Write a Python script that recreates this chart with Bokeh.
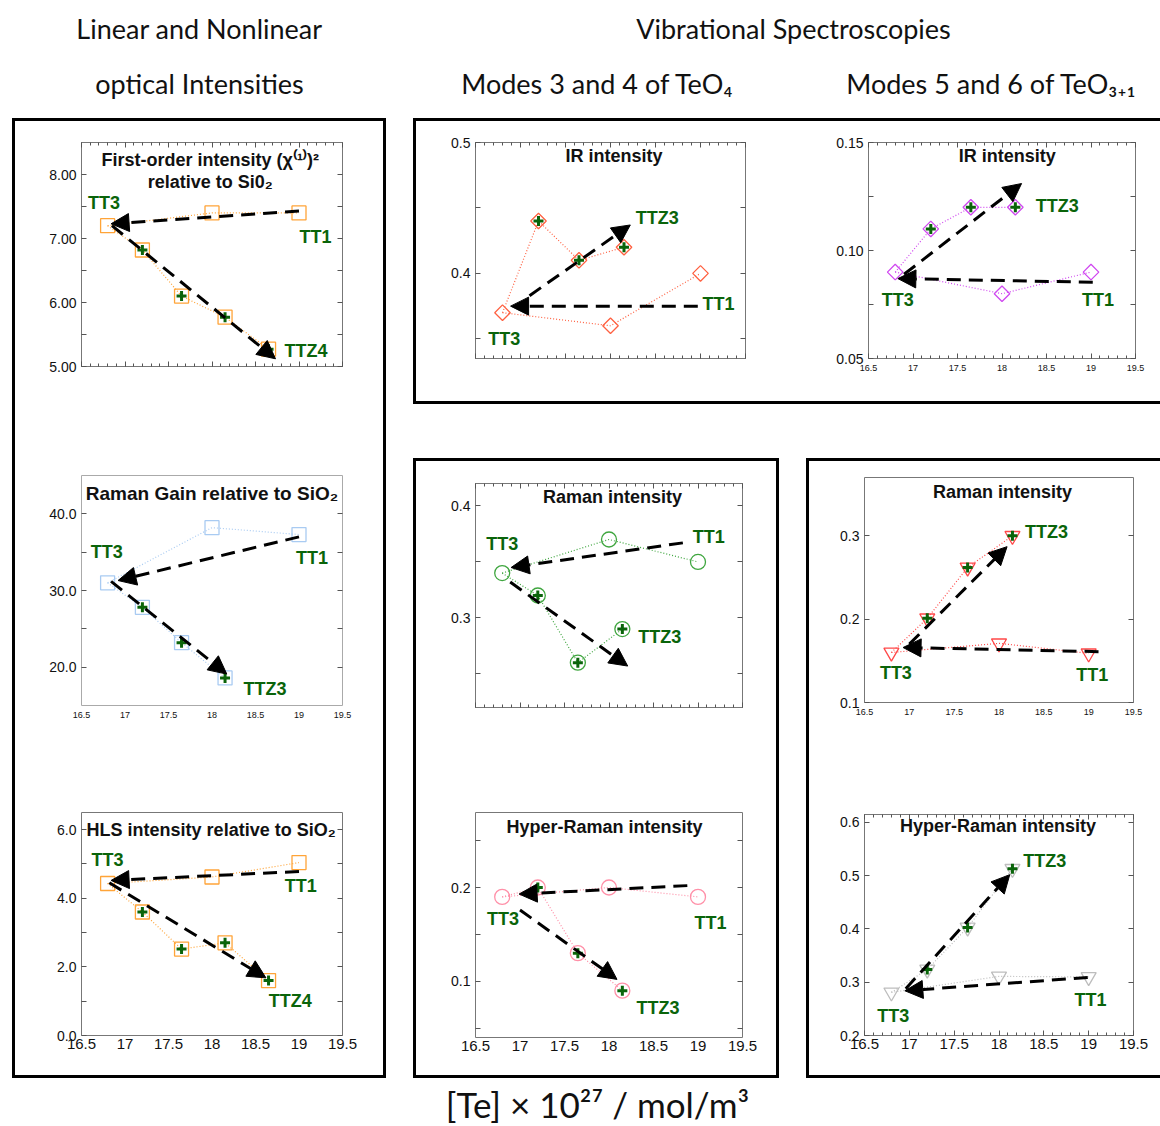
import math
from bokeh.plotting import figure
from bokeh.models import (Range1d, LinearAxis, FixedTicker, PrintfTickFormatter,
                          CustomJSTickFormatter, Arrow, NormalHead, Label, Spacer)
from bokeh.layouts import row, column
from bokeh.embed import file_html
from bokeh.resources import INLINE

# ---------------- data ----------------
TT_X = [16.8, 18.0, 19.0]
TTZ4_X = [16.8, 17.2, 17.65, 18.15, 18.65]
TTZ3_X = [16.8, 17.2, 17.65, 18.15]

A_TT_Y = [7.2, 7.4, 7.4]
A_TTZ_Y = [7.2, 6.82, 6.1, 5.77, 5.27]
B_TT_Y = [31.0, 38.2, 37.3]
B_TTZ_Y = [31.0, 27.8, 23.2, 18.6]
C_TT_Y = [4.43, 4.62, 5.04]
C_TTZ_Y = [4.43, 3.6, 2.52, 2.7, 1.6]
D_TT_Y = [0.37, 0.36, 0.40]
D_TTZ_Y = [0.37, 0.44, 0.41, 0.42]
E_TT_Y = [0.09, 0.08, 0.09]
E_TTZ_Y = [0.09, 0.11, 0.12, 0.12]
F_TT_Y = [0.34, 0.37, 0.35]
F_TTZ_Y = [0.34, 0.32, 0.26, 0.29]
G_TT_Y = [0.16, 0.171, 0.159]
G_TTZ_Y = [0.16, 0.201, 0.262, 0.30]
H_TT_Y = [0.19, 0.20, 0.19]
H_TTZ_Y = [0.19, 0.20, 0.13, 0.09]
I_TT_Y = [0.281, 0.311, 0.31]
I_TTZ_Y = [0.281, 0.324, 0.403, 0.513]

# arrows: (x_start, y_start, x_end, y_end)
A_ARROWS = [(19.0, 7.43, 16.84, 7.23), (16.85, 7.2, 18.73, 5.12)]
B_ARROWS = [(19.0, 37.0, 16.92, 31.3), (16.84, 31.2, 18.17, 19.1)]
C_ARROWS = [(19.0, 4.78, 16.84, 4.52), (16.82, 4.45, 18.62, 1.68)]
D_ARROWS = [(18.97, 0.375, 16.89, 0.375), (17.1, 0.383, 18.22, 0.437)]
E_ARROWS = [(19.02, 0.0853, 16.83, 0.087), (16.9, 0.089, 18.22, 0.131)]
F_ARROWS = [(18.83, 0.367, 16.9, 0.345), (16.89, 0.332, 18.21, 0.257)]
G_ARROWS = [(19.11, 0.161, 16.93, 0.166), (17.0, 0.17, 18.09, 0.287)]
H_ARROWS = [(18.88, 0.202, 16.99, 0.193), (17.0, 0.176, 18.09, 0.102)]
I_ARROWS = [(18.99, 0.309, 16.95, 0.284), (16.96, 0.288, 18.12, 0.502)]

X_TICKS = [16.5, 17.0, 17.5, 18.0, 18.5, 19.0, 19.5]
X_MINOR = [round(16.5 + 0.1 * i, 1) for i in range(31)]

GREEN = "#0A640A"
FONT = "Liberation Sans"
HFONT = "Lato"


def blank_fmt():
    return CustomJSTickFormatter(code="return '';")


def style_axis(ax, in_len=5, minor_len=3):
    ax.major_tick_in = in_len
    ax.major_tick_out = 0
    ax.minor_tick_in = minor_len
    ax.minor_tick_out = 0
    ax.axis_line_color = None
    ax.major_tick_line_color = "#555555"
    ax.minor_tick_line_color = "#555555"
    ax.major_label_text_font = FONT
    ax.major_label_text_color = "#111111"


def panel(w, h, bl, br, bt, bb, yr, yticks, yminor, yfmt, xlab, xticks,
          color, marker, msize, tt_y, ttz_x, ttz_y, arrows, titles, labels,
          outline="#777777"):
    p = figure(width=w, height=h, x_range=Range1d(16.5, 19.5), y_range=Range1d(*yr),
               toolbar_location=None, output_backend="svg",
               x_axis_location=None, y_axis_location=None,
               min_border_left=bl, min_border_right=br,
               min_border_top=bt, min_border_bottom=bb)
    p.xgrid.visible = False
    p.ygrid.visible = False
    p.outline_line_color = outline
    p.outline_line_width = 1
    p.background_fill_color = "white"
    p.border_fill_color = "white"

    # y axes
    ly = LinearAxis(ticker=FixedTicker(ticks=yticks, minor_ticks=yminor),
                    formatter=PrintfTickFormatter(format=yfmt))
    style_axis(ly, 5, 5)
    ly.major_label_text_font_size = "14px"
    ly.major_label_standoff = 5
    p.add_layout(ly, "left")
    ry = LinearAxis(ticker=FixedTicker(ticks=yticks, minor_ticks=yminor), formatter=blank_fmt())
    style_axis(ry, 5, 5)
    ry.major_label_text_font_size = "1px"
    ry.major_label_standoff = 0
    p.add_layout(ry, "right")

    # x axes
    tl = 5 if xticks else 0
    ml = 3 if xticks else 0
    bx = LinearAxis(ticker=FixedTicker(ticks=X_TICKS, minor_ticks=X_MINOR if xticks else []))
    style_axis(bx, tl, ml)
    if xlab == "small":
        bx.formatter = CustomJSTickFormatter(code="return tick.toString();")
        bx.major_label_text_font_size = "9px"
        bx.major_label_standoff = 6
    elif xlab == "large":
        bx.formatter = CustomJSTickFormatter(code="return tick.toString();")
        bx.major_label_text_font_size = "15px"
        bx.major_label_standoff = 3
    else:
        bx.formatter = blank_fmt()
        bx.major_label_text_font_size = "1px"
        bx.major_label_standoff = 0
    p.add_layout(bx, "below")
    if xticks:
        tx = LinearAxis(ticker=FixedTicker(ticks=X_TICKS, minor_ticks=X_MINOR), formatter=blank_fmt())
        style_axis(tx, tl, ml)
        tx.major_label_text_font_size = "1px"
        tx.major_label_standoff = 0
        p.add_layout(tx, "above")

    angle = math.pi / 4 if marker == "diamond" else 0.0
    mk = "square" if marker == "diamond" else marker

    # dotted connecting lines
    p.line(TT_X, tt_y, line_color=color, line_dash="1 2", line_width=1.2)
    p.line(ttz_x, ttz_y, line_color=color, line_dash="1 2", line_width=1.2)
    # hollow markers
    p.scatter(TT_X, tt_y, marker=mk, size=msize, angle=angle, line_color=color,
              fill_color=None, line_width=1.3)
    p.scatter(ttz_x[1:], ttz_y[1:], marker=mk, size=msize, angle=angle, line_color=color,
              fill_color=None, line_width=1.3)
    # green plus markers
    p.scatter(ttz_x[1:], ttz_y[1:], marker="cross", size=10, line_color=GREEN,
              line_width=3)

    for (xs, ys, xe, ye) in arrows:
        p.add_layout(Arrow(end=NormalHead(size=18, fill_color="black", line_color="black"),
                           x_start=xs, y_start=ys, x_end=xe, y_end=ye,
                           line_width=3, line_dash="14 8", line_color="black"))

    for (tx_, ty_, txt, fs) in titles:
        p.add_layout(Label(x=tx_, y=ty_, text=txt, text_font=FONT, text_font_style="bold",
                           text_font_size=fs, text_align="center", text_baseline="middle",
                           text_color="#111111"))
    for (lx, lyy, txt) in labels:
        p.add_layout(Label(x=lx, y=lyy, text=txt, text_font=FONT, text_font_style="bold",
                           text_font_size="18px", text_align="center", text_baseline="middle",
                           text_color=GREEN))
    return p


ORANGE = "#FFA438"
pA = panel(368, 319, 66, 29, 21, 74, (5.0, 8.5), [5, 6, 7, 8], [5.5, 6.5, 7.5], "%.2f",
           None, True, ORANGE, "square", 14, A_TT_Y, TTZ4_X, A_TTZ_Y, A_ARROWS,
           [(17.98, 8.22, "First-order intensity (χ⁽¹⁾)²", "18px"),
            (17.98, 7.88, "relative to Si0₂", "18px")],
           [(16.76, 7.56, "TT3"), (19.19, 7.02, "TT1"), (19.08, 5.25, "TTZ4")])

pB = panel(368, 320, 58, 30, 35, 55, (15.0, 45.0), [20, 30, 40], [25, 35], "%.1f",
           "small", False, "#A9CBF2", "square", 14, B_TT_Y, TTZ3_X, B_TTZ_Y, B_ARROWS,
           [(18.0, 42.6, "Raman Gain relative to SiO₂", "19px")],
           [(16.79, 35.0, "TT3"), (19.15, 34.2, "TT1"), (18.61, 17.1, "TTZ3")],
           outline="#aaaaaa")

pC = panel(368, 315, 54, 41, 52, 40, (0.0, 6.5), [0, 2, 4, 6], [1, 3, 5], "%.1f",
           "large", False, ORANGE, "square", 14, C_TT_Y, TTZ4_X, C_TTZ_Y, C_ARROWS,
           [(17.99, 6.0, "HLS intensity relative to SiO₂", "18px")],
           [(16.80, 5.13, "TT3"), (19.02, 4.35, "TT1"), (18.9, 1.01, "TTZ4")])

pD = panel(384, 280, 59, 55, 21, 43, (0.335, 0.5), [0.4, 0.5], [0.35, 0.45], "%.1f",
           None, True, "#FF6040", "diamond", 11, D_TT_Y, TTZ3_X, D_TTZ_Y, D_ARROWS,
           [(18.04, 0.490, "IR intensity", "18px")],
           [(18.52, 0.442, "TTZ3"), (19.2, 0.3765, "TT1"), (16.82, 0.35, "TT3")])

pE = panel(360, 280, 68, 25, 14, 41, (0.05, 0.15), [0.05, 0.10, 0.15], [0.075, 0.125], "%.2f",
           "small", True, "#D048F0", "diamond", 11, E_TT_Y, TTZ3_X, E_TTZ_Y, E_ARROWS,
           [(18.06, 0.1436, "IR intensity", "18px")],
           [(18.62, 0.1204, "TTZ3"), (19.08, 0.0769, "TT1"), (16.83, 0.0773, "TT3")])

pF = panel(360, 309, 59, 31, 22, 63, (0.22, 0.42), [0.3, 0.4], [0.25, 0.35], "%.1f",
           None, True, "#3FA63F", "circle", 15, F_TT_Y, TTZ3_X, F_TTZ_Y, F_ARROWS,
           [(18.04, 0.408, "Raman intensity", "18px")],
           [(16.8, 0.366, "TT3"), (19.12, 0.372, "TT1"), (18.57, 0.283, "TTZ3")])

pH = panel(360, 305, 51, 34, 42, 38, (0.04, 0.28), [0.1, 0.2], [0.05, 0.15, 0.25], "%.1f",
           "large", False, "#FF90A8", "circle", 15, H_TT_Y, TTZ3_X, H_TTZ_Y, H_ARROWS,
           [(17.95, 0.265, "Hyper-Raman intensity", "18px")],
           [(16.81, 0.166, "TT3"), (19.14, 0.162, "TT1"), (18.55, 0.072, "TTZ3")])

pG = panel(351, 309, 55, 25, 16, 68, (0.1, 0.37), [0.1, 0.2, 0.3], [], "%.1f",
           "small", False, "#FF4848", "inverted_triangle", 15, G_TT_Y, TTZ3_X, G_TTZ_Y, G_ARROWS,
           [(18.04, 0.353, "Raman intensity", "18px")],
           [(18.53, 0.305, "TTZ3"), (16.85, 0.135, "TT3"), (19.04, 0.133, "TT1")])

pI = panel(351, 305, 52, 27, 44, 40, (0.2, 0.615), [0.2, 0.3, 0.4, 0.5, 0.6], [], "%.1f",
           "large", True, "#BDBDBD", "inverted_triangle", 15, I_TT_Y, TTZ3_X, I_TTZ_Y, I_ARROWS,
           [(17.99, 0.594, "Hyper-Raman intensity", "18px")],
           [(18.51, 0.527, "TTZ3"), (16.82, 0.2375, "TT3"), (19.02, 0.2675, "TT1")])


# ---------------- boxes ----------------
BLK = {"background-color": "#000000"}


def boxed(content, w_in, h_in, right=True):
    t = 3
    w_out = w_in + t * (2 if right else 1)
    mid = [Spacer(width=t, height=h_in, styles=BLK), content]
    if right:
        mid.append(Spacer(width=t, height=h_in, styles=BLK))
    return column(Spacer(width=w_out, height=t, styles=BLK), row(*mid),
                  Spacer(width=w_out, height=t, styles=BLK))


left_box = boxed(column(pA, pB, pC), 368, 954)
top_box = boxed(row(pD, pE), 744, 280, right=False)
mid_box = boxed(column(pF, pH), 360, 614)
right_box = boxed(column(pG, pI), 351, 614, right=False)

right_col = column(top_box, Spacer(width=747, height=54),
                   row(mid_box, Spacer(width=27, height=620), right_box))
main = row(Spacer(width=12, height=960), left_box, Spacer(width=27, height=960), right_col)


def text_canvas(w, h, x0, x1, ytop, ybot):
    c = figure(width=w, height=h, x_range=Range1d(x0, x1), y_range=Range1d(ybot, ytop),
               toolbar_location=None, output_backend="svg", min_border=0,
               x_axis_location=None, y_axis_location=None)
    c.xgrid.visible = False
    c.ygrid.visible = False
    c.outline_line_color = None
    return c


header = text_canvas(1160, 118, 0, 1160, 0, 118)
for (hx, hy, ht) in [(199, 28, "Linear and Nonlinear"), (199, 83, "optical Intensities"),
                     (793, 28, "Vibrational Spectroscopies"),
                     (597, 83, "Modes 3 and 4 of TeO₄"),
                     (991, 83, "Modes 5 and 6 of TeO₃₊₁")]:
    header.add_layout(Label(x=hx, y=hy, text=ht, text_font=HFONT, text_font_size="27px",
                            text_align="center", text_baseline="middle", text_color="#111111"))

footer = text_canvas(1160, 48, 0, 1160, 1078, 1126)
footer.add_layout(Label(x=597, y=1103, text="[Te] × 10²⁷ / mol/m³", text_font=HFONT,
                        text_font_size="35px", text_align="center", text_baseline="middle",
                        text_color="#111111"))

layout = column(header, main, footer)

open("out.html", "w").write(file_html(layout, INLINE))
